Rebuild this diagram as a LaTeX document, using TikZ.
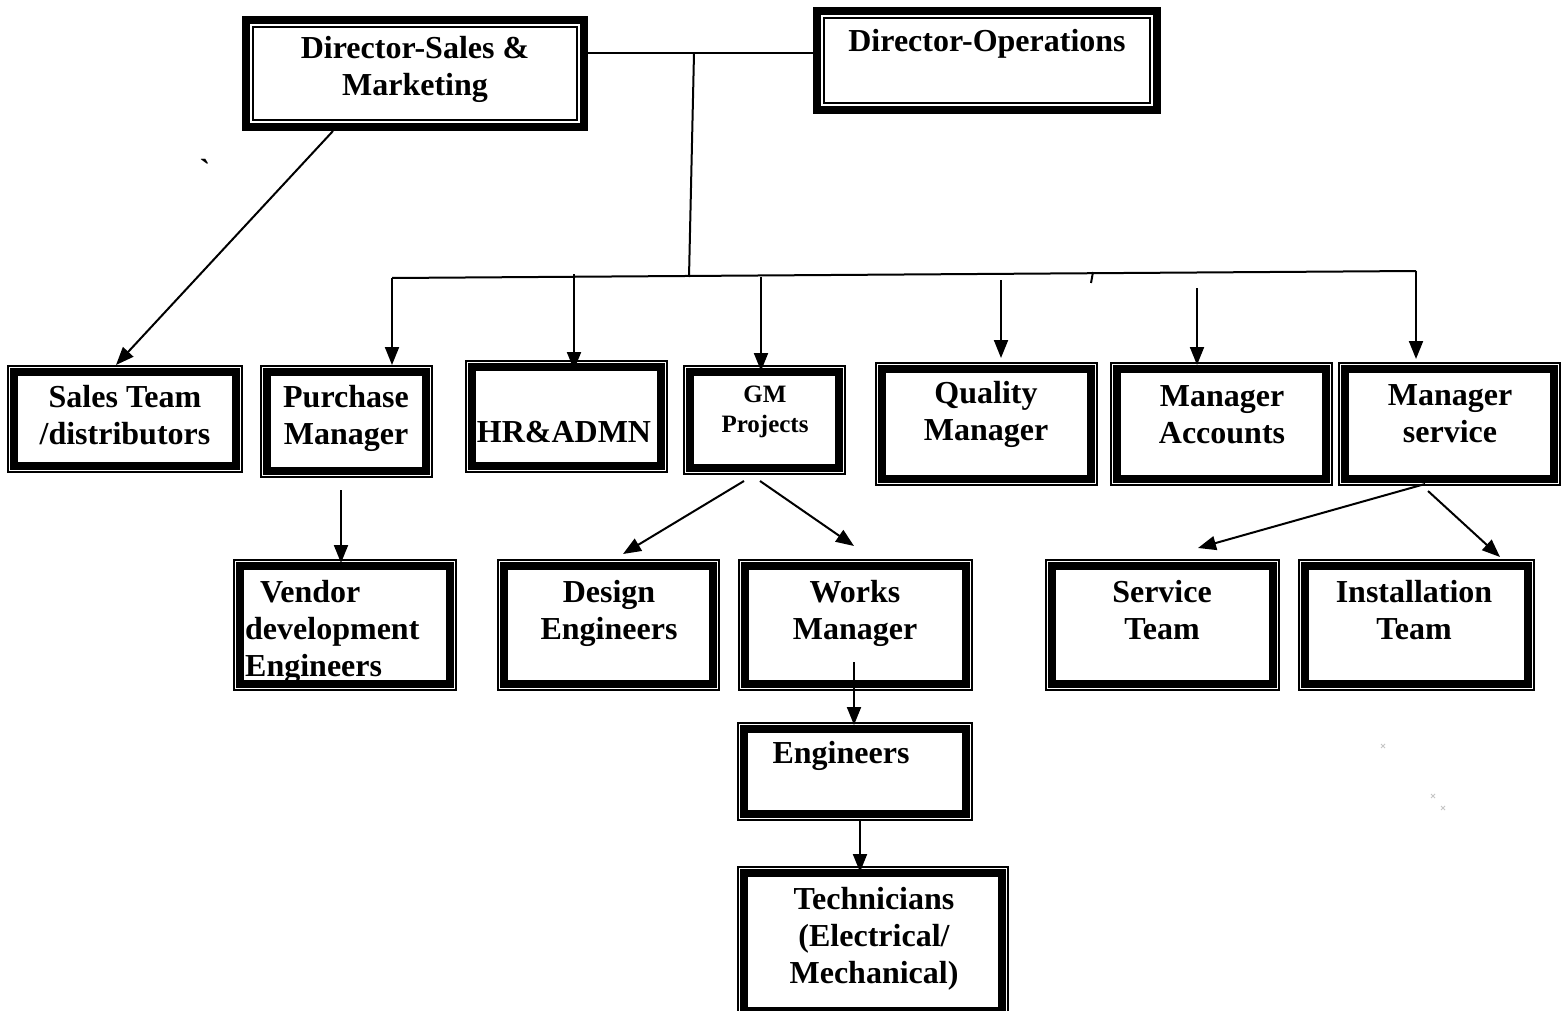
\documentclass[tikz,border=0pt]{standalone}
\usepackage{fontspec}
\setmainfont{Liberation Serif}
\usetikzlibrary{arrows.meta,calc}
\tikzset{
  boxa/.style={rectangle, inner sep=0pt, outer sep=0pt, fill=white, path picture={
    \draw[line width=1.6pt] ([shift={(0.8pt,0.8pt)}]path picture bounding box.south west) rectangle ([shift={(-0.8pt,-0.8pt)}]path picture bounding box.north east);
    \draw[line width=8pt] ([shift={(7.4pt,7.4pt)}]path picture bounding box.south west) rectangle ([shift={(-7.4pt,-7.4pt)}]path picture bounding box.north east);
  }},
  boxb/.style={rectangle, inner sep=0pt, outer sep=0pt, fill=white, path picture={
    \draw[line width=7.6pt] ([shift={(3.8pt,3.8pt)}]path picture bounding box.south west) rectangle ([shift={(-3.8pt,-3.8pt)}]path picture bounding box.north east);
    \draw[line width=1.6pt] ([shift={(10.8pt,10.8pt)}]path picture bounding box.south west) rectangle ([shift={(-10.8pt,-10.8pt)}]path picture bounding box.north east);
  }},
  txt/.style={font=\bfseries\fontsize{32}{37}\selectfont, align=center, inner sep=0pt, anchor=base},
  txtl/.style={font=\bfseries\fontsize{32}{37}\selectfont, align=left, inner sep=0pt, anchor=base west},
  txts/.style={font=\bfseries\fontsize{25}{30}\selectfont, align=center, inner sep=0pt, anchor=base},
  conn/.style={line width=2pt},
  arr/.style={line width=2pt, -{Triangle[length=18pt,width=14pt]}},
  speck/.style={line width=0.8pt, gray!45},
}
\newcommand\obox[6]{\node[#6, minimum width={(#4-#2)*1pt}, minimum height={(#5-#3)*1pt}] (#1) at ({(#2+#4)/2},{(#3+#5)/2}) {};}
\begin{document}
\begin{tikzpicture}[x=1pt,y=-1pt]
\useasboundingbox[fill=white] (0,0) rectangle (1562,1011);
% boxes
\obox{dsm}{242}{16}{588}{131}{boxb}
\obox{dop}{813}{7}{1161}{114}{boxb}
\obox{sales}{7}{365}{243}{473}{boxa}
\obox{pur}{260}{365}{433}{478}{boxa}
\obox{hr}{465}{360}{668}{473}{boxa}
\obox{gm}{683}{365}{846}{475}{boxa}
\obox{ql}{875}{362}{1098}{486}{boxa}
\obox{acc}{1110}{362}{1333}{486}{boxa}
\obox{ms}{1338}{362}{1561}{486}{boxa}
\obox{ven}{233}{559}{457}{691}{boxa}
\obox{des}{497}{559}{720}{691}{boxa}
\obox{wrk}{738}{559}{973}{691}{boxa}
\obox{svc}{1045}{559}{1280}{691}{boxa}
\obox{ins}{1298}{559}{1535}{691}{boxa}
\obox{eng}{737}{722}{973}{821}{boxa}
\obox{tec}{737}{866}{1009}{1018}{boxa}
% texts (anchor = baseline of the last line)
\node[txt] (dsmT) at (415,96) {Director-Sales \&\\Marketing};
\node[txt] (dopT) at (987,52) {Director-Operations};
\node[txt] (salesT) at (125,444) {Sales Team\\/distributors};
\node[txt] (purT) at (346,444) {Purchase\\Manager};
\node[txt] (hrT) at (564,442) {HR\&ADMN};
\node[txts] (gmT) at (765,432) {GM\\Projects};
\node[txt] (qlT) at (986,440) {Quality\\Manager};
\node[txt] (accT) at (1222,443) {Manager\\Accounts};
\node[txt] (msT) at (1450,442) {Manager\\service};
\node[txtl] (venT) at (245,676) {\hspace{15pt}Vendor\\development\\Engineers};
\node[txt] (desT) at (609,639) {Design\\Engineers};
\node[txt] (wrkT) at (855,639) {Works\\Manager};
\node[txt] (svcT) at (1162,639) {Service\\Team};
\node[txt] (insT) at (1414,639) {Installation\\Team};
\node[txt] (engT) at (841,763) {Engineers};
\node[txt] (tecT) at (874,983) {Technicians\\(Electrical/\\Mechanical)};
\node[txt] (tick) at (205,182) {\textasciigrave};
% junction coordinates
\coordinate (j1) at (694,53);
\coordinate (j2) at (689,277);
\coordinate (b1) at (392,278);
\coordinate (b2) at (1416,271);
\coordinate (t2) at (574,274);
\coordinate (t3) at (761,277);
\coordinate (t4) at (1001,280);
\coordinate (t5) at (1197,288);
\coordinate (k1) at (1093,272);
\coordinate (k2) at (1091,283);
\coordinate (pv) at (341,490);
\coordinate (we) at (854,662);
% connectors
\draw[conn] (dsm.east |- j1) -- (dop.west |- j1);
\draw[conn] (j1) -- (j2);
\draw[conn] (b1) -- (b2);
\draw[conn] (k1) -- (k2);
\draw[arr] (b1) -- (b1 |- pur.north);
\draw[arr, shorten >=-10pt] (t2) -- (t2 |- hr.north);
\draw[arr, shorten >=-6pt] (t3) -- (t3 |- gm.north);
\draw[arr, shorten >=4pt] (t4) -- (t4 |- ql.north);
\draw[arr, shorten >=-3pt] (t5) -- (t5 |- acc.north);
\draw[arr, shorten >=3pt] (b2) -- (b2 |- ms.north);
\draw[arr] ($(dsm.south west)+(91,0)$) -- ($(sales.north west)+(109,0)$);
\draw[arr, shorten >=-4pt] (pv) -- (pv |- ven.north);
\draw[arr] ($(gm.south west)+(61,6)$) -- ($(des.north west)+(126,-5)$);
\draw[arr] ($(gm.south west)+(77,6)$) -- ($(wrk.north west)+(116,-13)$);
\draw[arr, shorten >=-3pt] (we) -- (we |- eng.north);
\draw[arr, shorten >=-6pt] ($(eng.south)+(5,0)$) -- ($(tec.north)+(-13,0)$);
\draw[arr] ($(ms.south west)+(87,-2)$) -- ($(svc.north west)+(153,-11)$);
\draw[arr] ($(ms.south west)+(90,5)$) -- ($(ins.north west)+(202,-2)$);
% faint specks
\draw[speck] (1381,744) -- (1385,748) (1385,744) -- (1381,748);
\draw[speck] (1431,794) -- (1435,798) (1435,794) -- (1431,798);
\draw[speck] (1441,806) -- (1445,810) (1445,806) -- (1441,810);
\end{tikzpicture}
\end{document}
